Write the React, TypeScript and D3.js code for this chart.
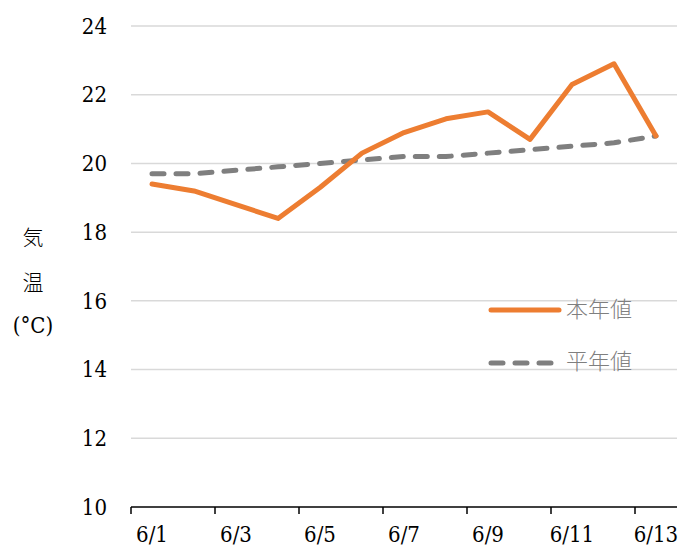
import React from "react";
import * as d3 from "d3";

const categories = ["6/1","6/2","6/3","6/4","6/5","6/6","6/7","6/8","6/9","6/10","6/11","6/12","6/13"];
const thisYear = [19.4, 19.2, 18.8, 18.4, 19.3, 20.3, 20.9, 21.3, 21.5, 20.7, 22.3, 22.9, 20.8];
const normal = [19.7, 19.7, 19.8, 19.9, 20.0, 20.1, 20.2, 20.2, 20.3, 20.4, 20.5, 20.6, 20.8];
const yTicks = [10, 12, 14, 16, 18, 20, 22, 24];
const seriesNames = ["本年値", "平年値"];
const yLabelLines = ["気", "温", "(°C)"];

const W = 681, H = 549;
const left = 131, right = 677, top = 26, bottom = 507;
const serif = "'DejaVu Serif', serif";
const cjk = "Noto Sans CJK JP, sans-serif";
const latinStyle = { fontFamily: serif, fontSize: 22, fontStretch: "condensed" as const };

export default function App() {
  const x = d3.scaleBand<string>().domain(categories).range([left, right]).padding(0);
  const y = d3.scaleLinear().domain([10, 24]).range([bottom, top]);
  const cx = (c: string) => (x(c) as number) + x.bandwidth() / 2;
  const line = d3.line<number>().x((_, i) => cx(categories[i])).y((d) => y(d));
  const boundaries = d3.range(0, categories.length + 1, 2).map((i) => left + i * x.bandwidth());

  return (
    <svg width={W} height={H} style={{ position: "absolute", left: 0, top: 0, background: "#fff" }}>
      {yTicks.filter((t) => t > 10).map((t) => (
        <line key={t} x1={left} x2={right} y1={y(t)} y2={y(t)} stroke="#d9d9d9" strokeWidth={1.5} />
      ))}
      <line x1={left} x2={right} y1={bottom} y2={bottom} stroke="#000" strokeWidth={1.5} />
      {boundaries.map((b, i) => (
        <line key={i} x1={b} x2={b} y1={bottom} y2={bottom + 7} stroke="#000" strokeWidth={1.5} />
      ))}
      {yTicks.map((t) => (
        <text key={t} x={107} y={y(t)} dy="0.35em" textAnchor="end" style={latinStyle} fill="#000">{t}</text>
      ))}
      {categories.map((c, i) => i % 2 === 0 ? (
        <text key={c} x={cx(c)} y={534} dy="0.35em" textAnchor="middle" style={latinStyle} fill="#000">{c}</text>
      ) : null)}
      {yLabelLines.map((s, i) => (
        <text key={s} x={33} y={[238, 283, 325][i]} dy="0.35em" textAnchor="middle" style={i === 2 ? latinStyle : { fontFamily: cjk, fontSize: 21, fontWeight: 300 }} fill="#000">{s}</text>
      ))}
      <path d={line(normal) || ""} fill="none" stroke="#7f7f7f" strokeWidth={5} strokeDasharray="12 12" strokeLinecap="round" strokeLinejoin="round" />
      <path d={line(thisYear) || ""} fill="none" stroke="#ed7d31" strokeWidth={5} strokeLinecap="round" strokeLinejoin="round" />
      <line x1={491} x2={559} y1={310} y2={310} stroke="#ed7d31" strokeWidth={5} strokeLinecap="round" />
      <text x={566} y={309} dy="0.35em" style={{ fontFamily: cjk, fontSize: 22, fontWeight: 300 }} fill="#7f7f7f">{seriesNames[0]}</text>
      <line x1={491} x2={559} y1={363} y2={363} stroke="#7f7f7f" strokeWidth={5} strokeDasharray="12 12" strokeLinecap="round" />
      <text x={566} y={361} dy="0.35em" style={{ fontFamily: cjk, fontSize: 22, fontWeight: 300 }} fill="#7f7f7f">{seriesNames[1]}</text>
    </svg>
  );
}
